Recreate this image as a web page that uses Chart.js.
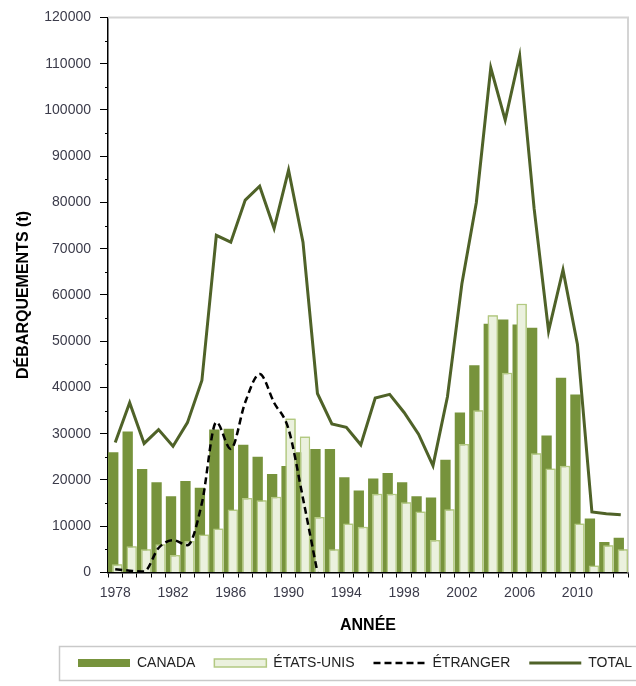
<!DOCTYPE html>
<html lang="fr">
<head>
<meta charset="utf-8">
<script src="https://cdn.jsdelivr.net/npm/chart.js@4/dist/chart.umd.min.js"></script>
<style>
  html, body { margin: 0; padding: 0; background: #fff; }
  #wrap { width: 636px; height: 686px; position: relative; }
</style>
</head>
<body>
<div id="wrap"><canvas id="graphDebarquements"></canvas></div>
<script>
const annees = [
    "1978","1979","1980","1981","1982","1983","1984","1985","1986","1987",
    "1988","1989","1990","1991","1992","1993","1994","1995","1996","1997",
    "1998","1999","2000","2001","2002","2003","2004","2005","2006","2007",
    "2008","2009","2010","2011","2012","2013"
];

const anneesAffichees = ["1978","1982","1986","1990","1994","1998","2002","2006","2010"];

const canada = [
    26000, 30500, 22400, 19500, 16500, 19800, 18300, 30900, 31100, 27600,
    25000, 21300, 23000, 26000, 26700, 26700, 20600, 17700, 20300, 21500,
    19500, 16500, 16200, 24400, 34600, 44800, 53800, 54700, 53600, 52900,
    29600, 42100, 38500, 11700, 6600, 7500
];

const etatsUnis = [
    1800, 5700, 5000, 6100, 3800, 6800, 8200, 9500, 13600, 16100,
    15600, 16400, 33300, 29400, 12000, 5000, 10600, 9900, 17000, 17000,
    15200, 13200, 7000, 13700, 27800, 35100, 55600, 43200, 58100, 25800,
    22500, 23100, 10600, 1500, 5900, 5000
];

const etranger = [
    700, 400, 200, 5300, 7000, 5900, 15000, 32500, 26700, 36800,
    42900, 36700, 31000, 16000, 0, null, null, null, null, null,
    null, null, null, null, null, null, null, null, null, null,
    null, null, null, null, null, null
];

const total = [
    28100, 36700, 27900, 30900, 27300, 32400, 41500, 72900, 71400, 80500,
    83500, 74400, 87000, 71400, 38700, 32100, 31400, 27600, 37700, 38500,
    34600, 29900, 23100, 38000, 62400, 80000, 109100, 97800, 111700, 78700,
    52200, 65400, 49300, 13100, 12700, 12500
];

const yMax = 120000;
const yPas = 10000;

const couleurTexte = "#3b3b4a";
const padLegende = 19;
const taillePoliceLegende = 14;

Chart.defaults.font.family = "'Liberation Sans', Arial, sans-serif";

// les barres des É.-U. passent devant celles du Canada
const etatsUnisDevant = {
    id: "etatsUnisDevant",
    afterDatasetDraw(chart, args) {
        if (args.index === 0) chart.getDatasetMeta(1).controller.draw();
    }
};

// cadre gris haut / droite
const cadre = {
    id: "cadre",
    beforeDatasetsDraw(chart) {
        const { ctx, chartArea: a } = chart;
        ctx.save();
        ctx.strokeStyle = "#d4d4d4";
        ctx.lineWidth = 2;
        ctx.beginPath();
        ctx.moveTo(a.left, a.top);
        ctx.lineTo(a.right, a.top);
        ctx.lineTo(a.right, a.bottom);
        ctx.stroke();
        ctx.restore();
    }
};

// petites graduations intermédiaires sur l'axe Y
const graduations = {
    id: "graduations",
    afterDraw(chart) {
        const y = chart.scales.y;
        const ctx = chart.ctx;
        ctx.save();
        ctx.strokeStyle = "#000";
        ctx.lineWidth = 1;
        for (let v = yPas / 2; v < yMax; v += yPas) {
            const py = Math.round(y.getPixelForValue(v)) + 0.5;
            ctx.beginPath();
            ctx.moveTo(y.right - 3, py);
            ctx.lineTo(y.right, py);
            ctx.stroke();
        }
        ctx.restore();
    }
};

// légende décalée vers la droite, dans un cadre
const legendeDecalee = {
    id: "legendeDecalee",
    beforeDraw(chart) {
        chart.legend.left = 59;
        chart.legend.right = 900;
    },
    afterDraw(chart) {
        const lg = chart.legend;
        const ctx = chart.ctx;
        const cy = lg.top + padLegende + taillePoliceLegende / 2;
        ctx.save();
        ctx.strokeStyle = "#c9c9c9";
        ctx.lineWidth = 1.5;
        ctx.strokeRect(59.5, Math.round(cy - 17) + 0.5, 600, 34);
        ctx.restore();
    }
};

new Chart(document.getElementById("graphDebarquements"), {
    type: "bar",
    data: {
        labels: annees,
        datasets: [
            {
                label: "CANADA",
                data: canada,
                backgroundColor: "#77933c",
                borderColor: "#77933c",
                borderWidth: 0,
                pointStyle: "rect",
                categoryPercentage: 0.55,
                barPercentage: 2.6,
                order: 5
            },
            {
                label: "ÉTATS-UNIS",
                data: etatsUnis,
                backgroundColor: "#ebf1de",
                borderColor: "#b3c982",
                borderWidth: 1.5,
                pointStyle: "rect",
                categoryPercentage: 0.55,
                barPercentage: 2.6,
                order: 5
            },
            {
                type: "line",
                label: "ÉTRANGER",
                data: etranger,
                borderColor: "#000",
                backgroundColor: "#000",
                borderWidth: 2.5,
                borderDash: [7, 4],
                pointRadius: 0,
                pointStyle: "line",
                cubicInterpolationMode: "monotone",
                spanGaps: false,
                order: 1
            },
            {
                type: "line",
                label: "TOTAL",
                data: total,
                borderColor: "#4f6228",
                backgroundColor: "#4f6228",
                borderWidth: 3,
                pointRadius: 0,
                pointStyle: "line",
                tension: 0,
                order: 2
            }
        ]
    },
    options: {
        responsive: true,
        maintainAspectRatio: false,
        animation: false,
        layout: { padding: { top: 15, right: 8, bottom: 6, left: 0 } },
        plugins: {
            tooltip: { enabled: false },
            legend: {
                position: "bottom",
                align: "start",
                labels: {
                    usePointStyle: true,
                    pointStyleWidth: 52,
                    boxHeight: 8,
                    padding: padLegende,
                    color: "#222",
                    font: { family: "'Liberation Sans Narrow', 'Arial Narrow', 'Liberation Sans', sans-serif", size: taillePoliceLegende },
                    generateLabels(chart) {
                        return chart.data.datasets.map((ds, i) => ({
                            text: ds.label,
                            datasetIndex: i,
                            fillStyle: ds.backgroundColor,
                            strokeStyle: ds.borderColor,
                            lineWidth: ds.borderWidth,
                            lineDash: ds.borderDash || [],
                            pointStyle: ds.pointStyle,
                            hidden: false,
                            fontColor: "#222"
                        }));
                    }
                }
            }
        },
        scales: {
            x: {
                offset: true,
                afterFit(scale) { scale.height = 64.5; },
                grid: { drawOnChartArea: false, offset: true, tickLength: 5, color: "#000" },
                border: { color: "#000", width: 1.5 },
                ticks: {
                    autoSkip: false,
                    maxRotation: 0,
                    padding: 7,
                    color: couleurTexte,
                    font: { size: 14 },
                    callback: (v, i) => anneesAffichees.includes(annees[i]) ? annees[i] : ""
                },
                title: {
                    display: true,
                    text: "ANNÉE",
                    color: "#000",
                    font: { size: 16, weight: "bold" },
                    padding: { top: 0, bottom: 2 }
                }
            },
            y: {
                min: 0,
                max: yMax,
                afterFit(scale) { scale.width = 108; },
                grid: { drawOnChartArea: false, tickLength: 8, color: "#000" },
                border: { color: "#000", width: 1.5 },
                ticks: {
                    stepSize: yPas,
                    padding: 9,
                    color: couleurTexte,
                    font: { size: 14 },
                    callback: v => String(v)
                },
                title: {
                    display: true,
                    text: "DÉBARQUEMENTS (t)",
                    color: "#000",
                    font: { size: 16, weight: "bold" },
                    padding: { top: 14, bottom: 0 }
                }
            }
        }
    },
    plugins: [etatsUnisDevant, cadre, graduations, legendeDecalee]
});
</script>
</body>
</html>
